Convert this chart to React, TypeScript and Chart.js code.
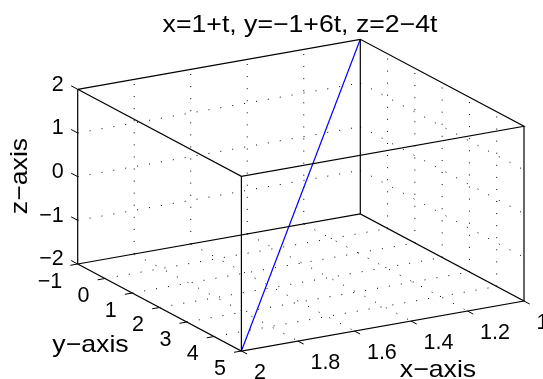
import React, { useEffect, useRef } from "react";
import { Chart, registerables } from "chart.js";

Chart.register(...registerables);

const title = "x=1+t, y=\u22121+6t, z=2\u22124t";
const xLabel = "x\u2212axis";
const yLabel = "y\u2212axis";
const zLabel = "z\u2212axis";

const xTicks = [1, 1.2, 1.4, 1.6, 1.8, 2];
const yTicks = [-1, 0, 1, 2, 3, 4, 5];
const zTicks = [-2, -1, 0, 1, 2];
const xTickLabels = ["1", "1.2", "1.4", "1.6", "1.8", "2"];
const yTickLabels = ["\u22121", "0", "1", "2", "3", "4", "5"];
const zTickLabels = ["\u22122", "\u22121", "0", "1", "2"];

const lineX = [1, 2];
const lineY = [-1, 5];
const lineZ = [2, -2];

// Orthographic view of the 3-D box onto the page
const project = (x: number, y: number, z: number) => {
  const u = x - 1;
  const v = (y + 1) / 6;
  const w = (z + 2) / 4;
  return { x: 360.3 - 282.6 * u + 163.7 * v, y: 214 + 50 * u + 87 * v - 174.7 * w };
};

type P3 = [number, number, number];
const seg = (pts: P3[], color: string, dash: number[] = [], width = 1) => ({
  data: pts.map((p) => project(p[0], p[1], p[2])),
  showLine: true,
  borderColor: color,
  borderWidth: width,
  borderDash: dash,
  pointRadius: 0,
  tension: 0,
  fill: false,
  clip: false as any,
});

const DOT = [1, 11.07];
const buildDatasets = () => {
  const ds: any[] = [];
  const xIn = xTicks.slice(1, -1);
  const yIn = yTicks.slice(1, -1);
  const zIn = zTicks.slice(1, -1);
  for (const x of xIn) {
    ds.push(seg([[x, -1, -2], [x, 5, -2]], "#000", DOT));
    ds.push(seg([[x, -1, -2], [x, -1, 2]], "#000", DOT));
  }
  for (const y of yIn) {
    ds.push(seg([[2, y, -2], [1, y, -2]], "#000", DOT));
    ds.push(seg([[1, y, -2], [1, y, 2]], "#000", DOT));
  }
  for (const z of zIn) {
    ds.push(seg([[2, -1, z], [1, -1, z]], "#000", DOT));
    ds.push(seg([[1, -1, z], [1, 5, z]], "#000", DOT));
  }
  const corners: [number, number][] = [[2, -1], [1, -1], [1, 5], [2, 5]];
  for (const z of [-2, 2]) {
    const ring: P3[] = corners.map((c) => [c[0], c[1], z]);
    ring.push(ring[0]);
    ds.push(seg(ring, "#000", [], 1.2));
  }
  for (const c of corners) ds.push(seg([[c[0], c[1], -2], [c[0], c[1], 2]], "#000", [], 1.2));
  for (const z of zTicks) ds.push(seg([[2, -1, z], [2, -1.24, z]], "#000"));
  for (const y of yTicks) ds.push(seg([[2, y, -2], [2.026, y, -2]], "#000"));
  for (const x of xTicks) ds.push(seg([[x, 5, -2], [x, 5.21, -2]], "#000"));
  ds.push(seg(lineX.map((x, i) => [x, lineY[i], lineZ[i]] as P3), "#0000ff", [], 1.2));
  return ds;
};

const TICK_FONT = '21.5px "Liberation Sans", Arial, sans-serif';
const LABEL_FONT = '24px "Liberation Sans", Arial, sans-serif';
const LABEL_STRETCH = 1.11;

const textPlugin = {
  id: "axes3dText",
  afterDraw(chart: any) {
    const { ctx, scales } = chart;
    const sx = (v: number) => scales.x.getPixelForValue(v);
    const sy = (v: number) => scales.y.getPixelForValue(v);
    ctx.save();
    ctx.font = TICK_FONT;
    ctx.fillStyle = "#000";
    ctx.textBaseline = "middle";
    const put = (s: string, x: number, y: number, align: CanvasTextAlign) => {
      ctx.textAlign = align;
      ctx.fillText(s, x, y);
    };
    zTicks.forEach((z, i) => {
      const p = project(2, -1, z);
      put(zTickLabels[i], sx(p.x) - 14, sy(p.y) - 4.5, "right");
    });
    yTicks.forEach((y, i) => {
      const p = project(2, y, -2);
      put(yTickLabels[i], sx(p.x) - 15.5, sy(p.y) + 18, "right");
    });
    xTicks.forEach((x, i) => {
      const p = project(x, 5, -2);
      put(xTickLabels[i], sx(p.x) + 12.5, sy(p.y) + 22.5, "left");
    });
    ctx.font = LABEL_FONT;
    const stretched = (s: string, x: number, y: number, angle: number) => {
      ctx.save();
      ctx.translate(sx(x), sy(y));
      ctx.rotate(angle);
      ctx.scale(LABEL_STRETCH, 1);
      put(s, 0, 0, "center");
      ctx.restore();
    };
    stretched(title, 300, 25, 0);
    stretched(xLabel, 438, 370, 0);
    stretched(yLabel, 90.5, 345, 0);
    stretched(zLabel, 20, 176, -Math.PI / 2);
    ctx.restore();
  },
};

export default function App() {
  const ref = useRef<HTMLCanvasElement>(null);
  useEffect(() => {
    const chart = new Chart(ref.current as HTMLCanvasElement, {
      type: "scatter",
      data: { datasets: buildDatasets() },
      options: {
        animation: false,
        responsive: false,
        layout: { padding: 0 },
        plugins: { legend: { display: false }, tooltip: { enabled: false } },
        scales: {
          x: { type: "linear", min: 0, max: 543, display: false },
          y: { type: "linear", min: 0, max: 379, reverse: true, display: false },
        },
      },
      plugins: [textPlugin],
    } as any);
    return () => chart.destroy();
  }, []);
  return (
    <canvas
      ref={ref}
      width={543}
      height={379}
      style={{ position: "fixed", left: 0, top: 0, width: 543, height: 379, display: "block", background: "#fff" }}
    />
  );
}
